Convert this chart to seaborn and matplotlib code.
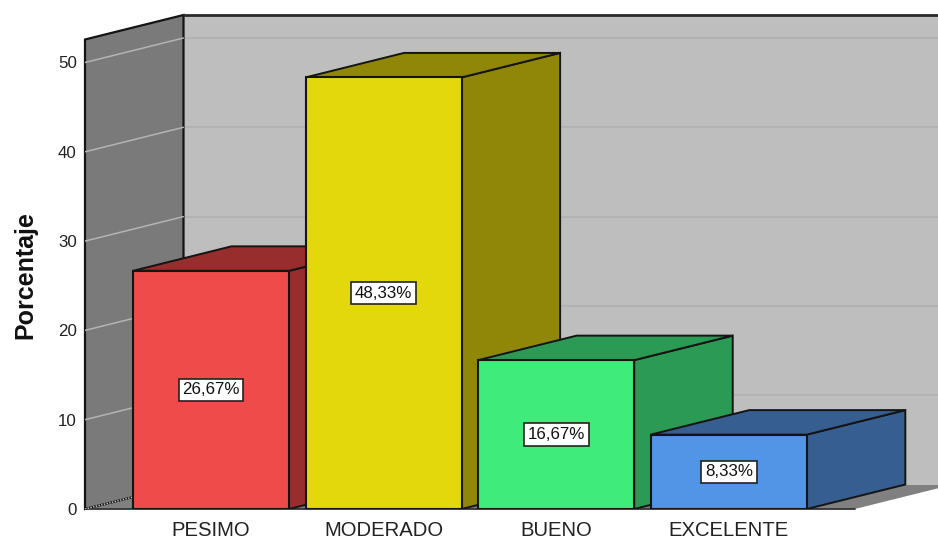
import matplotlib
matplotlib.use("Agg")
import matplotlib.pyplot as plt
from matplotlib.patches import Polygon
import seaborn as sns
import pandas as pd

categories = ["PESIMO", "MODERADO", "BUENO", "EXCELENTE"]
values = [26.67, 48.33, 16.67, 8.33]
labels = ["26,67%", "48,33%", "16,67%", "8,33%"]
front_colors = ["#EF4B4B", "#E3D80C", "#3FEB7B", "#5294E6"]
side_colors = ["#982D2D", "#908708", "#2B9A55", "#375E90"]
yticks = [0, 10, 20, 30, 40, 50]

W, H = 938, 540
sns.set_theme(style="white")
plt.rcParams["font.family"] = ["Liberation Sans", "DejaVu Sans"]

fig = plt.figure(figsize=(W / 100, H / 100), dpi=100)
ax = fig.add_axes([85 / W, (H - 509) / H, (W - 85) / W, (509 - 15) / H])

df = pd.DataFrame({"cat": categories, "val": values})
sns.barplot(data=df, x="cat", y="val", hue="cat", order=categories, hue_order=categories,
            palette=front_colors, width=0.904, saturation=1, legend=False, ax=ax)

x0, x1 = -0.73, 4.212
y1 = 494 / 8.93
ax.set_xlim(x0, x1)
ax.set_ylim(0, y1)
dx = 98.5 / 172.6
dy = 24.5 / 8.93
edge = "#141414"

# walls and floor
floor_right = 3.73
ax.add_patch(Polygon([(x0, 0), (x0 + dx, dy), (floor_right + dx, dy), (floor_right, 0)],
                     closed=True, fc="#808080", ec="none", zorder=0.5, clip_on=False))
ax.add_patch(Polygon([(x0 + dx, dy), (x1 + 1, dy), (x1 + 1, y1), (x0 + dx, y1)],
                     closed=True, fc="#BEBEBE", ec="none", zorder=0.5, clip_on=False))
ax.add_patch(Polygon([(x0, 0), (x0 + dx, dy), (x0 + dx, y1), (x0, y1 - dy)],
                     closed=True, fc="#7A7A7A", ec=edge, lw=1.6, zorder=0.7, clip_on=False))
ax.plot([x0 + dx, x1], [y1, y1], color="#2A2A2A", lw=2.0, zorder=0.8, clip_on=False)
ax.plot([x0, floor_right], [0, 0], color="#333333", lw=1.3, zorder=0.8, clip_on=False)

for v in yticks[1:]:
    ax.plot([x0 + dx, x1], [v + dy, v + dy], color="#B0B0B0", lw=1.2, zorder=0.6)
    ax.plot([x0, x0 + dx], [v, v + dy], color="#B4B4B4", lw=1.1, zorder=0.8)
ax.plot([x0, x0 + dx], [0, dy], color="#C8C8C8", lw=1.0, ls=(0, (1, 1)), zorder=0.8)

# bars: front from seaborn, depth faces derived from each bar
for i, patch in enumerate([p for c in ax.containers for p in c]):
    bx, bw, bh = patch.get_x(), patch.get_width(), patch.get_height()
    z = 3 + i
    patch.set_edgecolor(edge)
    patch.set_linewidth(1.5)
    patch.set_zorder(z + 0.5)
    ax.add_patch(Polygon([(bx + bw, 0), (bx + bw + dx, dy), (bx + bw + dx, bh + dy), (bx + bw, bh)],
                         closed=True, fc=side_colors[i], ec=edge, lw=1.4, zorder=z))
    ax.add_patch(Polygon([(bx, bh), (bx + dx, bh + dy), (bx + bw + dx, bh + dy), (bx + bw, bh)],
                         closed=True, fc=side_colors[i], ec=edge, lw=1.4, zorder=z))
    ax.text(bx + bw / 2, bh / 2, labels[i], ha="center", va="center", fontsize=12.2,
            color="#111111", zorder=20,
            bbox=dict(boxstyle="square,pad=0.22", fc="white", ec="#222222", lw=1.2))

for s in ax.spines.values():
    s.set_visible(False)
ax.patch.set_visible(False)
ax.set_xlabel("")
ax.set_ylabel("Porcentaje", fontsize=18, fontweight="bold", color="#111111", labelpad=0)
ax.yaxis.set_label_coords(-48 / (W - 85), (509 - 275) / (509 - 15))
ax.set_yticks(yticks)
ax.tick_params(axis="y", length=0, pad=6, labelsize=12.2, labelcolor="#222222")
ax.tick_params(axis="x", length=0, pad=8.5, labelsize=14.6, labelcolor="#222222")

fig.savefig("out.png", dpi=100, facecolor="white")
